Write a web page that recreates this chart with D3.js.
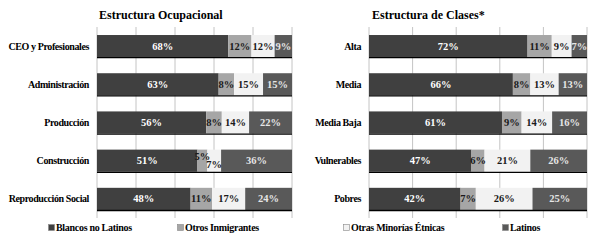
<!DOCTYPE html>
<html lang="es">
<head>
<meta charset="UTF-8">
<title>Estructura Ocupacional y de Clases</title>
<script src="https://d3js.org/d3.v7.min.js"></script>
<style>
  body { margin: 0; background: #fff; }
  svg text { font-family: "Liberation Serif", "Times New Roman", serif; font-weight: bold; }
</style>
</head>
<body>
<div id="chart"></div>
<script>
const seriesNames = ["Blancos no Latinos", "Otros Inmigrantes", "Otras Minorías Étnicas", "Latinos"];
const seriesColors = ["#404040", "#a6a6a6", "#f2f2f2", "#595959"];
const labelColors = ["#ffffff", "#1a1a1a", "#1a1a1a", "#e6e6e6"];

const ocupCategories = ["CEO y Profesionales", "Administración", "Producción", "Construcción", "Reproducción Social"];
const ocupBlancos = [68, 63, 56, 51, 48];
const ocupOtrosInm = [12, 8, 8, 5, 11];
const ocupMinorias = [12, 15, 14, 7, 17];
const ocupLatinos = [9, 15, 22, 36, 24];

const claseCategories = ["Alta", "Media", "Media Baja", "Vulnerables", "Pobres"];
const claseBlancos = [72, 66, 61, 47, 42];
const claseOtrosInm = [11, 8, 9, 6, 7];
const claseMinorias = [9, 13, 14, 21, 26];
const claseLatinos = [7, 13, 16, 26, 25];

const W = 610, H = 243;
const svg = d3.select("#chart").append("svg").attr("width", W).attr("height", H);

function panel(opts) {
  const { title, cats, cols, x0, x1, titleX } = opts;
  const rows = cats.map((c, i) => {
    const r = { cat: c };
    seriesNames.forEach((s, j) => r[s] = cols[j][i]);
    return r;
  });
  const stacked = d3.stack().keys(seriesNames).offset(d3.stackOffsetExpand)(rows);

  const x = d3.scaleLinear().domain([0, 1]).range([x0, x1]);
  const y = d3.scaleBand().domain(cats).range([27, 218]).paddingInner(0.42).paddingOuter(0.21);

  const g = svg.append("g");

  // grid
  g.selectAll(".grid").data(x.ticks(4)).enter().append("line")
    .attr("x1", d => x(d)).attr("x2", d => x(d))
    .attr("y1", 27).attr("y2", 218)
    .attr("stroke", "#c4c4c4").attr("stroke-width", 1);

  // bars
  stacked.forEach((layer, j) => {
    g.selectAll(".seg" + j).data(layer).enter().append("rect")
      .attr("x", d => x(d[0]))
      .attr("width", d => x(d[1]) - x(d[0]))
      .attr("y", d => y(d.data.cat))
      .attr("height", y.bandwidth())
      .attr("fill", seriesColors[j]);
  });

  // bottom dark edge of each bar
  g.selectAll(".edge").data(cats).enter().append("line")
    .attr("x1", x0).attr("x2", x1)
    .attr("y1", d => y(d) + y.bandwidth() + 0.5).attr("y2", d => y(d) + y.bandwidth() + 0.5)
    .attr("stroke", "#000").attr("stroke-width", 1.3);

  // labels (narrow neighbours get nudged up / down)
  stacked.forEach((layer, j) => {
    g.selectAll(".lab" + j).data(layer).enter().append("text")
      .attr("x", d => (x(d[0]) + x(d[1])) / 2)
      .attr("y", d => {
        const c = y(d.data.cat) + y.bandwidth() / 2 + 3.5;
        const w = x(d[1]) - x(d[0]);
        if (w < 12) return c - 4;
        if (w < 17 && j === 2 && d.data[seriesNames[1]] < 6) return c + 4;
        return c;
      })
      .attr("text-anchor", "middle")
      .attr("font-size", 10.5)
      .attr("fill", labelColors[j])
      .text(d => d.data[seriesNames[j]] + "%");
  });

  // category labels
  g.selectAll(".cat").data(cats).enter().append("text")
    .attr("x", x0 - 8)
    .attr("y", d => y(d) + y.bandwidth() / 2 + 3.5)
    .attr("text-anchor", "end")
    .attr("font-size", 10)
    .attr("letter-spacing", -0.4)
    .attr("fill", "#000")
    .text(d => d);

  g.append("text")
    .attr("x", titleX).attr("y", 19)
    .attr("font-size", 12).attr("fill", "#000")
    .text(title);
}

panel({ title: "Estructura Ocupacional", cats: ocupCategories,
  cols: [ocupBlancos, ocupOtrosInm, ocupMinorias, ocupLatinos], x0: 97, x1: 292, titleX: 99 });
panel({ title: "Estructura de Clases*", cats: claseCategories,
  cols: [claseBlancos, claseOtrosInm, claseMinorias, claseLatinos], x0: 369, x1: 587, titleX: 372 });

// legend
const legendX = [48, 177, 343, 502];
const leg = svg.selectAll(".leg").data(seriesNames).enter().append("g")
  .attr("transform", (d, i) => `translate(${legendX[i]},231)`);
leg.append("rect").attr("x", 0.5).attr("y", -6.5).attr("width", 6).attr("height", 6)
  .attr("fill", (d, i) => seriesColors[i]).attr("stroke", "#888").attr("stroke-width", 0.6);
leg.append("text").attr("x", 8).attr("y", 0).attr("font-size", 10).attr("letter-spacing", -0.3)
  .attr("fill", "#000").text(d => d);
</script>
</body>
</html>
